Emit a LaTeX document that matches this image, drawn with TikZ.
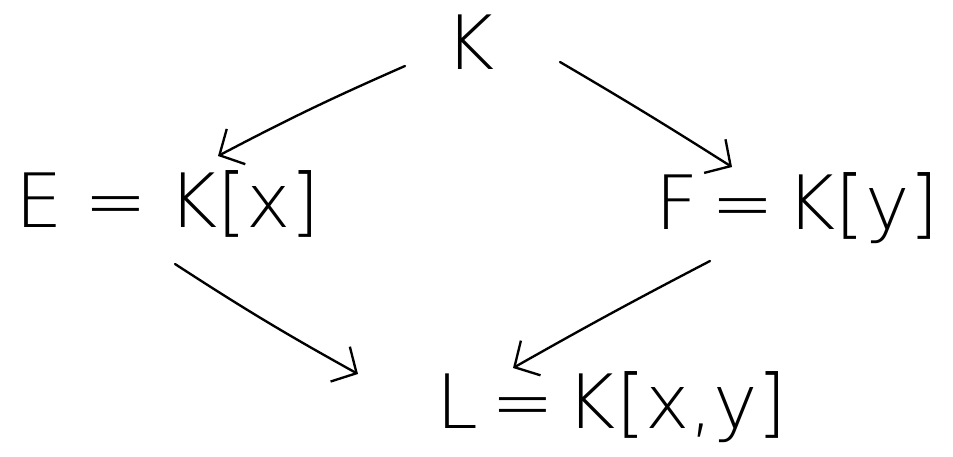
\documentclass[tikz,border=0pt]{standalone}
\usepackage{fontspec}
\newfontfamily\thinhand{DejaVu Sans ExtraLight}
\usetikzlibrary{arrows.meta}
\newcommand{\gap}[1][0.17em]{\hspace{#1}}
\begin{document}
\begin{tikzpicture}[x=0.03cm,y=-0.03cm,
  field/.style={inner sep=0pt, font=\thinhand\fontsize{64}{76}\selectfont},
  incl/.style={line width=2pt, line cap=round, line join=round,
    -{Straight Barb[length=16pt,width=34pt,line width=2pt]}}]
\useasboundingbox (0,0) rectangle (953,457);
\node[field] (K) at (470,42) {K};
\node[field] (E) at (168,204) {E\gap[0.28em]=\gap[0.28em]K[x]};
\node[field] (F) at (797,208) {F\gap=\gap K[y]};
\node[field] (L) at (612,407) {L\gap=\gap K[x,y]};
\coordinate (k1) at (405,66);
\coordinate (e1) at (218,156);
\coordinate (k2) at (560,62);
\coordinate (f1) at (732,167);
\coordinate (e2) at (175,264);
\coordinate (l1) at (358,374);
\coordinate (f2) at (710,261);
\coordinate (l2) at (513,368);
\draw[incl] (k1) to[bend right=2] (e1);
\draw[incl] (k2) to[bend left=1] (f1);
\draw[incl] (e2) to[bend right=2] (l1);
\draw[incl] (f2) to[bend right=1] (l2);
\end{tikzpicture}
\end{document}
